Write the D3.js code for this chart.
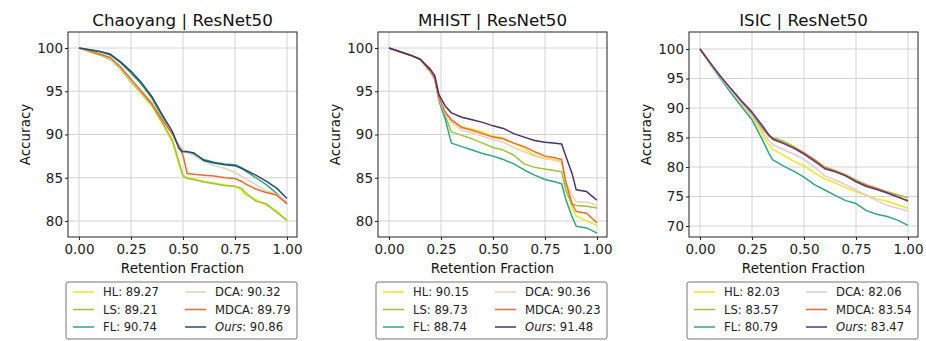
<!DOCTYPE html>
<html>
<head>
<meta charset="utf-8">
<script src="https://cdn.jsdelivr.net/npm/d3@7"></script>
<style>
  body { margin: 0; background: #fff; }
  svg { display: block; font-family: 'DejaVu Sans', sans-serif; }
</style>
</head>
<body>
<svg id="chart" width="926" height="341"></svg>
<script>
// method names, in drawing / legend order
const methods = ['HL', 'LS', 'FL', 'DCA', 'MDCA', 'Ours'];
const titles = ['Chaoyang | ResNet50', 'MHIST | ResNet50', 'ISIC | ResNet50'];
const xTicks = [0, 0.25, 0.5, 0.75, 1.0];
const yTicks = [[80, 85, 90, 95, 100], [80, 85, 90, 95, 100], [70, 75, 80, 85, 90, 95, 100]];

// Chaoyang
const chaoyangX = [0, 0.05, 0.1, 0.15, 0.2, 0.25, 0.3, 0.35, 0.4, 0.45, 0.48, 0.5, 0.52, 0.55, 0.6, 0.65, 0.7, 0.75, 0.78, 0.8, 0.85, 0.9, 0.95, 1.0];
const chaoyangHL = [100, 99.6, 99.2, 98.7, 97.6, 96.0, 94.7, 93.3, 91.3, 89.0, 86.5, 85.3, 85.0, 84.9, 84.6, 84.4, 84.2, 84.0, 83.6, 83.0, 82.5, 81.8, 81.2, 80.0];
const chaoyangLS = [100, 99.6, 99.2, 98.7, 97.6, 96.1, 94.8, 93.4, 91.4, 89.3, 86.9, 85.2, 84.9, 84.8, 84.5, 84.3, 84.1, 84.0, 83.8, 83.3, 82.3, 82.0, 81.0, 80.1];
const chaoyangFL = [100, 99.8, 99.6, 99.2, 98.3, 97.1, 95.8, 94.2, 92.1, 90.1, 88.6, 88.2, 88.0, 87.8, 87.1, 86.8, 86.6, 86.5, 86.2, 85.8, 85.0, 84.2, 83.2, 82.0];
const chaoyangDCA = [100, 99.7, 99.3, 98.8, 97.7, 96.2, 94.9, 93.6, 91.8, 90.2, 88.9, 88.2, 87.9, 87.6, 86.9, 86.4, 86.1, 85.6, 85.2, 84.9, 84.2, 83.5, 83.1, 82.2];
const chaoyangMDCA = [100, 99.7, 99.3, 98.9, 97.8, 96.4, 95.0, 93.6, 91.7, 90.0, 88.6, 87.6, 85.5, 85.4, 85.3, 85.2, 85.0, 84.9, 84.6, 84.3, 83.7, 83.3, 83.0, 82.0];
const chaoyangOurs = [100, 99.8, 99.6, 99.3, 98.4, 97.3, 96.0, 94.4, 92.3, 90.3, 88.4, 88.0, 88.0, 87.9, 87.0, 86.7, 86.5, 86.4, 86.1, 85.9, 85.3, 84.6, 83.8, 82.6];
const chaoyangScores = ['89.27', '89.21', '90.74', '90.32', '89.79', '90.86'];

// MHIST
const mhistX = [0, 0.05, 0.1, 0.15, 0.2, 0.22, 0.24, 0.27, 0.3, 0.35, 0.4, 0.45, 0.5, 0.55, 0.6, 0.65, 0.7, 0.75, 0.8, 0.83, 0.85, 0.88, 0.9, 0.95, 1.0];
const mhistHL = [100, 99.6, 99.2, 98.7, 97.3, 96.5, 94.2, 92.5, 91.6, 90.9, 90.6, 90.3, 89.8, 89.6, 89.0, 88.4, 87.6, 87.3, 87.1, 86.9, 84.0, 81.5, 80.6, 80.0, 79.5];
const mhistLS = [100, 99.6, 99.2, 98.7, 97.2, 96.4, 94.0, 92.2, 90.3, 89.9, 89.5, 89.0, 88.5, 88.2, 87.6, 86.6, 86.2, 86.0, 85.8, 85.7, 83.5, 82.0, 81.8, 81.7, 81.5];
const mhistFL = [100, 99.6, 99.2, 98.7, 97.2, 96.4, 93.9, 91.8, 89.0, 88.6, 88.2, 87.8, 87.5, 87.1, 86.6, 85.9, 85.3, 84.8, 84.5, 84.3, 82.5, 80.5, 79.4, 79.2, 78.6];
const mhistDCA = [100, 99.6, 99.2, 98.7, 97.2, 96.4, 94.1, 92.4, 91.4, 90.5, 90.2, 89.8, 89.4, 89.1, 88.5, 88.0, 87.5, 87.2, 87.0, 86.8, 84.5, 83.0, 82.2, 82.2, 81.8];
const mhistMDCA = [100, 99.6, 99.2, 98.7, 97.3, 96.5, 94.3, 92.6, 91.7, 90.8, 90.5, 90.1, 89.7, 89.5, 89.0, 88.6, 88.0, 87.5, 87.3, 87.1, 84.5, 82.0, 81.1, 80.9, 79.8];
const mhistOurs = [100, 99.6, 99.2, 98.7, 97.5, 96.8, 94.6, 93.3, 92.5, 92.0, 91.7, 91.4, 91.0, 90.7, 90.1, 89.7, 89.3, 89.1, 89.0, 88.9, 87.5, 85.5, 83.6, 83.4, 82.4];
const mhistScores = ['90.15', '89.73', '88.74', '90.36', '90.23', '91.48'];

// ISIC
const isicX = [0, 0.05, 0.1, 0.15, 0.2, 0.25, 0.3, 0.33, 0.35, 0.4, 0.45, 0.5, 0.55, 0.6, 0.65, 0.7, 0.75, 0.8, 0.85, 0.9, 0.95, 1.0];
const isicHL = [100, 97.5, 95.1, 92.8, 90.6, 88.5, 85.5, 83.8, 83.0, 82.0, 81.0, 80.2, 79.0, 78.0, 77.3, 76.5, 75.8, 75.2, 74.6, 74.2, 73.6, 73.0];
const isicLS = [100, 97.5, 95.2, 93.0, 90.8, 88.8, 86.4, 85.4, 85.0, 84.4, 83.5, 82.4, 81.3, 80.0, 79.4, 78.7, 77.8, 77.0, 76.4, 75.8, 75.3, 74.8];
const isicFL = [100, 97.4, 94.9, 92.5, 90.2, 88.0, 84.6, 82.4, 81.2, 80.2, 79.3, 78.3, 77.0, 76.1, 75.2, 74.3, 73.8, 72.6, 72.0, 71.6, 71.0, 70.1];
const isicDCA = [100, 97.5, 95.1, 92.9, 90.7, 88.6, 86.0, 84.5, 83.8, 83.0, 82.2, 81.3, 80.0, 78.5, 77.8, 77.0, 76.1, 75.2, 74.3, 73.5, 73.0, 72.5];
const isicMDCA = [100, 97.6, 95.3, 93.2, 91.1, 89.2, 86.8, 85.3, 84.8, 84.1, 83.3, 82.4, 81.2, 79.9, 79.3, 78.6, 77.6, 76.9, 76.3, 75.7, 75.0, 74.2];
const isicOurs = [100, 97.6, 95.3, 93.2, 91.2, 89.3, 87.0, 85.5, 84.7, 84.0, 83.2, 82.2, 81.0, 79.7, 79.2, 78.5, 77.5, 76.7, 76.2, 75.6, 74.9, 74.3];
const isicScores = ['82.03', '83.57', '80.79', '82.06', '83.54', '83.47'];

const panels = [
  {title: titles[0], x: chaoyangX, series: [chaoyangHL, chaoyangLS, chaoyangFL, chaoyangDCA, chaoyangMDCA, chaoyangOurs], scores: chaoyangScores, yTicks: yTicks[0]},
  {title: titles[1], x: mhistX, series: [mhistHL, mhistLS, mhistFL, mhistDCA, mhistMDCA, mhistOurs], scores: mhistScores, yTicks: yTicks[1]},
  {title: titles[2], x: isicX, series: [isicHL, isicLS, isicFL, isicDCA, isicMDCA, isicOurs], scores: isicScores, yTicks: yTicks[2]}
];

// layout
const boxLefts = [68, 378, 689];
const boxW = 229, boxTop = 32, boxBottom = 237;
const oursColors = ['#2e4a72', '#4a2e6c', '#553a80'];
const baseColors = ['#e4ee22', '#9cc43a', '#2ea87c', '#e6cfbc', '#ee6a2c'];
const dcaColors = ['#d6d9bf', '#efcfb8', '#e3cbd6'];

const svg = d3.select('#chart');

panels.forEach((p, i) => {
  const left = boxLefts[i];
  const g = svg.append('g');
  const colors = baseColors.slice();
  colors[3] = dcaColors[i];
  colors.push(oursColors[i]);

  const x = d3.scaleLinear().domain([0, 1]).range([left + 11, left + 219]);
  const yMin = p.yTicks[0];
  const y = d3.scaleLinear().domain([yMin, 100])
    .range(i === 2 ? [226, 49] : [221, 48]);

  // grid
  g.selectAll('.vgrid').data(xTicks).enter().append('line')
    .attr('x1', d => x(d)).attr('x2', d => x(d))
    .attr('y1', boxTop).attr('y2', boxBottom)
    .attr('stroke', '#d4d4d4').attr('stroke-width', 1);
  g.selectAll('.hgrid').data(p.yTicks).enter().append('line')
    .attr('x1', left).attr('x2', left + boxW)
    .attr('y1', d => y(d)).attr('y2', d => y(d))
    .attr('stroke', '#d4d4d4').attr('stroke-width', 1);

  // clip
  svg.append('clipPath').attr('id', 'clip' + i)
    .append('rect').attr('x', left).attr('y', boxTop)
    .attr('width', boxW).attr('height', boxBottom - boxTop);

  const line = d3.line()
    .x((d, k) => x(p.x[k]))
    .y(d => y(d));

  g.append('g').attr('clip-path', 'url(#clip' + i + ')')
    .selectAll('path').data(p.series).enter().append('path')
    .attr('d', d => line(d))
    .attr('fill', 'none')
    .attr('stroke', (d, k) => colors[k])
    .attr('stroke-width', 1.5)
    .attr('stroke-linejoin', 'round');

  // axes
  const xAxis = g.append('g')
    .attr('transform', 'translate(0,' + boxBottom + ')')
    .call(d3.axisBottom(x).tickValues(xTicks).tickFormat(d3.format('.2f')).tickSize(3).tickPadding(4.5));
  const yAxis = g.append('g')
    .attr('transform', 'translate(' + left + ',0)')
    .call(d3.axisLeft(y).tickValues(p.yTicks).tickFormat(d3.format('d')).tickSize(3).tickPadding(2));
  [xAxis, yAxis].forEach(a => {
    a.select('.domain').remove();
    a.selectAll('text').attr('font-size', 13.5).attr('fill', '#222').attr('font-family', 'DejaVu Sans');
    a.selectAll('line').attr('stroke', '#222');
  });

  // frame
  g.append('rect')
    .attr('x', left).attr('y', boxTop)
    .attr('width', boxW).attr('height', boxBottom - boxTop)
    .attr('fill', 'none').attr('stroke', '#222').attr('stroke-width', 1);

  // title and labels
  g.append('text')
    .attr('x', left + boxW / 2).attr('y', 26)
    .attr('text-anchor', 'middle').attr('font-size', 16.7).attr('fill', '#111')
    .text(p.title);
  g.append('text')
    .attr('x', left + boxW / 2).attr('y', 273)
    .attr('text-anchor', 'middle').attr('font-size', 13.5).attr('fill', '#111')
    .text('Retention Fraction');
  g.append('text')
    .attr('transform', 'translate(' + (left - 38) + ',' + ((boxTop + boxBottom) / 2) + ') rotate(-90)')
    .attr('text-anchor', 'middle').attr('font-size', 13.5).attr('fill', '#111')
    .text('Accuracy');

  // legend
  const lg = g.append('g').attr('transform', 'translate(' + (left - 2) + ',282)');
  lg.append('rect')
    .attr('width', boxW + 2).attr('height', 57).attr('rx', 2)
    .attr('fill', '#fff').attr('stroke', '#777').attr('stroke-width', 1);
  methods.forEach((m, k) => {
    const col = Math.floor(k / 3), row = k % 3;
    const hx = col === 0 ? 7 : 119;
    const ry = 10 + row * 17.5;
    lg.append('line')
      .attr('x1', hx).attr('x2', hx + 21)
      .attr('y1', ry).attr('y2', ry)
      .attr('stroke', colors[k]).attr('stroke-width', 1.5);
    const t = lg.append('text')
      .attr('x', hx + 30).attr('y', ry + 4.2)
      .attr('font-size', 11.6).attr('fill', '#222');
    t.append('tspan').attr('font-style', m === 'Ours' ? 'italic' : 'normal').text(m);
    t.append('tspan').text(': ' + p.scores[k]);
  });
});
</script>
</body>
</html>
